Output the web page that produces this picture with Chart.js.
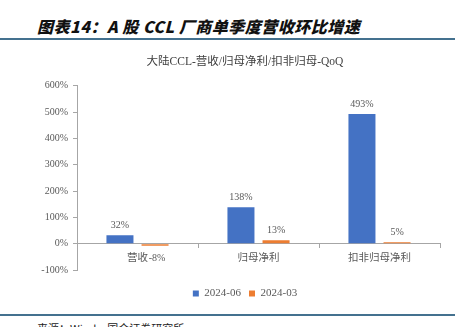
<!DOCTYPE html>
<html>
<head>
<meta charset="utf-8">
<script src="https://cdn.jsdelivr.net/npm/chart.js@4"></script>
<style>
  html, body { margin: 0; padding: 0; background: #fff; }
  body { width: 471px; height: 327px; position: relative; overflow: hidden; }
  .head {
    position: absolute; left: 37px; top: 14px;
    font: italic 900 16px "Noto Sans CJK SC", sans-serif;
    color: #111; letter-spacing: 0.5px;
  }
  .rule { position: absolute; left: 0; width: 455px; height: 2px; background: #44718f; }
  .src {
    position: absolute; left: 37px; top: 320px;
    font: 11px "Noto Sans CJK SC", sans-serif; color: #222;
  }
  #wrap { position: absolute; left: 0; top: 45px; width: 471px; height: 262px; }
</style>
</head>
<body>
<div class="head">图表14：A 股 CCL 厂商单季度营收环比增速</div>
<div class="rule" style="top:38px"></div>
<div id="wrap"><canvas id="chart"></canvas></div>
<div class="rule" style="top:314px"></div>
<div class="src">来源：Wind，国金证券研究所</div>
<script>
const categories = ["营收", "归母净利", "扣非归母净利"];
const q2 = [32, 138, 493];   // 2024-06
const q1 = [-8, 13, 5];      // 2024-03
const seriesNames = ["2024-06", "2024-03"];

const textFont = "'Liberation Serif', 'Noto Sans CJK SC', serif";

// value labels: above positive bars, below negative ones
const valueLabels = {
  id: "valueLabels",
  afterDatasetsDraw(chart) {
    const ctx = chart.ctx;
    ctx.save();
    ctx.font = "10px " + textFont;
    ctx.fillStyle = "#595959";
    ctx.textAlign = "center";
    chart.data.datasets.forEach((ds, i) => {
      chart.getDatasetMeta(i).data.forEach((bar, j) => {
        const v = ds.data[j];
        if (v >= 0) {
          ctx.textBaseline = "bottom";
          ctx.fillText(v + "%", bar.x, bar.y - 5);
        } else {
          ctx.textBaseline = "top";
          ctx.fillText(v + "%", bar.x + 2, bar.base + 9);
        }
      });
    });
    ctx.restore();
  }
};

// centre title and legend on the plot rather than the whole canvas,
// and drop the legend to the bottom edge
const shiftBoxes = {
  id: "shiftBoxes",
  afterLayout(chart) {
    const dx = 25;
    [chart.titleBlock, chart.legend].forEach((b) => {
      b.left += dx;
      b.right += dx;
    });
    chart.legend.top += 10;
    chart.legend.bottom += 10;
  }
};

new Chart(document.getElementById("chart"), {
  type: "bar",
  data: {
    labels: categories,
    datasets: [
      { label: seriesNames[0], data: q2, backgroundColor: "#4472c4" },
      { label: seriesNames[1], data: q1, backgroundColor: "#ed7d31" }
    ]
  },
  options: {
    responsive: true,
    maintainAspectRatio: false,
    animation: false,
    categoryPercentage: 0.58,
    barPercentage: 0.77,
    layout: { padding: { left: 0, right: 31, top: 0, bottom: 8 } },
    plugins: {
      title: {
        display: true,
        text: "大陆CCL-营收/归母净利/扣非归母-QoQ",
        color: "#404040",
        font: { family: textFont, size: 11.5, weight: "normal" },
        padding: { top: 10, bottom: 17 }
      },
      legend: {
        position: "bottom",
        labels: {
          boxWidth: 6, boxHeight: 6, padding: 8,
          color: "#595959",
          font: { family: textFont, size: 11 }
        }
      },
      tooltip: { enabled: false }
    },
    scales: {
      x: {
        position: { y: 0 },
        grid: {
          offset: true, drawOnChartArea: false, tickLength: 4,
          color: "#a6a6a6"
        },
        border: { color: "#a6a6a6" },
        ticks: { color: "#595959", font: { family: textFont, size: 10.5 }, padding: 4 }
      },
      y: {
        min: -100, max: 600,
        grid: { drawOnChartArea: false, tickLength: 4, color: "#a6a6a6" },
        border: { color: "#a6a6a6" },
        afterFit: (s) => { s.width = 77; },
        ticks: {
          stepSize: 100,
          color: "#595959",
          font: { family: textFont, size: 10 },
          padding: 5,
          callback: (v) => v + "%"
        }
      }
    }
  },
  plugins: [valueLabels, shiftBoxes]
});
</script>
</body>
</html>
